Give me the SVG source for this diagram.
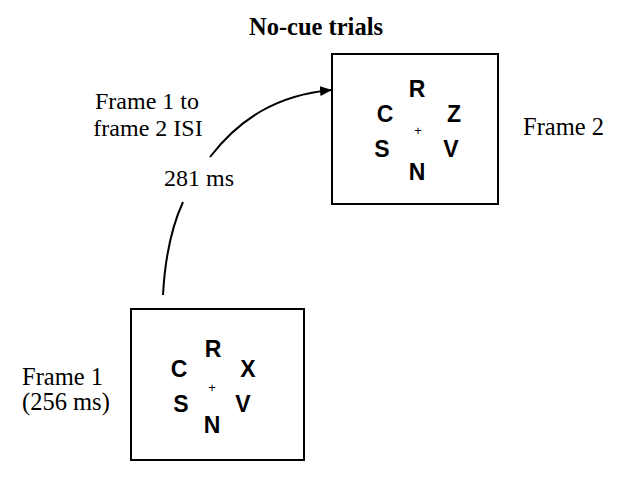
<svg xmlns="http://www.w3.org/2000/svg" width="633" height="485" viewBox="0 0 633 485">
<style>
.box{fill:#fff;stroke:#000;stroke-width:2}
.let{font-family:"Liberation Sans",Arial,sans-serif;font-weight:bold;font-size:23px;text-anchor:middle;fill:#000}
.fix{font-family:"Liberation Sans",Arial,sans-serif;font-size:13px;text-anchor:middle;fill:#000}
.lbl{font-family:"Liberation Serif","Times New Roman",serif;font-size:24.5px;fill:#000}
.isi{font-family:"Liberation Serif","Times New Roman",serif;font-size:24px;fill:#000;text-anchor:middle}
.ttl{font-family:"Liberation Serif","Times New Roman",serif;font-size:24.5px;font-weight:bold;text-anchor:middle;fill:#000}
.con{fill:none;stroke:#000;stroke-width:2}
</style>
<defs>
<marker id="ah" markerWidth="12" markerHeight="10" refX="11" refY="5" orient="auto" markerUnits="userSpaceOnUse">
<path d="M0,0 L12,5 L0,10 Z" fill="#000"/>
</marker>
</defs>
<rect width="633" height="485" fill="#fff"/>
<text class="ttl" x="316" y="35">No-cue trials</text>
<g id="connectors">
<path class="con" d="M163,295 C165,258 172,226 183,202"/>
<path class="con" d="M210,157 C240,118 278,95 331,90" marker-end="url(#ah)"/>
</g>
<g id="isi-label">
<text class="isi" x="147" y="109">Frame 1 to</text>
<text class="isi" x="148" y="136">frame 2 ISI</text>
<text class="isi" x="199" y="186">281 ms</text>
</g>
<g id="frame2">
<rect class="box" x="332" y="54" width="166" height="150"/>
<text class="let" x="417" y="97">R</text>
<text class="let" x="385" y="122">C</text>
<text class="let" x="454" y="122">Z</text>
<text class="fix" x="418" y="135">+</text>
<text class="let" x="382" y="157">S</text>
<text class="let" x="451" y="157">V</text>
<text class="let" x="417" y="180">N</text>
<text class="lbl" x="523" y="135">Frame 2</text>
</g>
<g id="frame1">
<rect class="box" x="131" y="309" width="173" height="151"/>
<text class="let" x="213" y="357">R</text>
<text class="let" x="179" y="377">C</text>
<text class="let" x="248" y="377">X</text>
<text class="fix" x="212" y="392">+</text>
<text class="let" x="181" y="412">S</text>
<text class="let" x="243" y="412">V</text>
<text class="let" x="212" y="433">N</text>
<text class="lbl" x="22" y="385">Frame 1</text>
<text class="lbl" x="22" y="410">(256 ms)</text>
</g>
</svg>
